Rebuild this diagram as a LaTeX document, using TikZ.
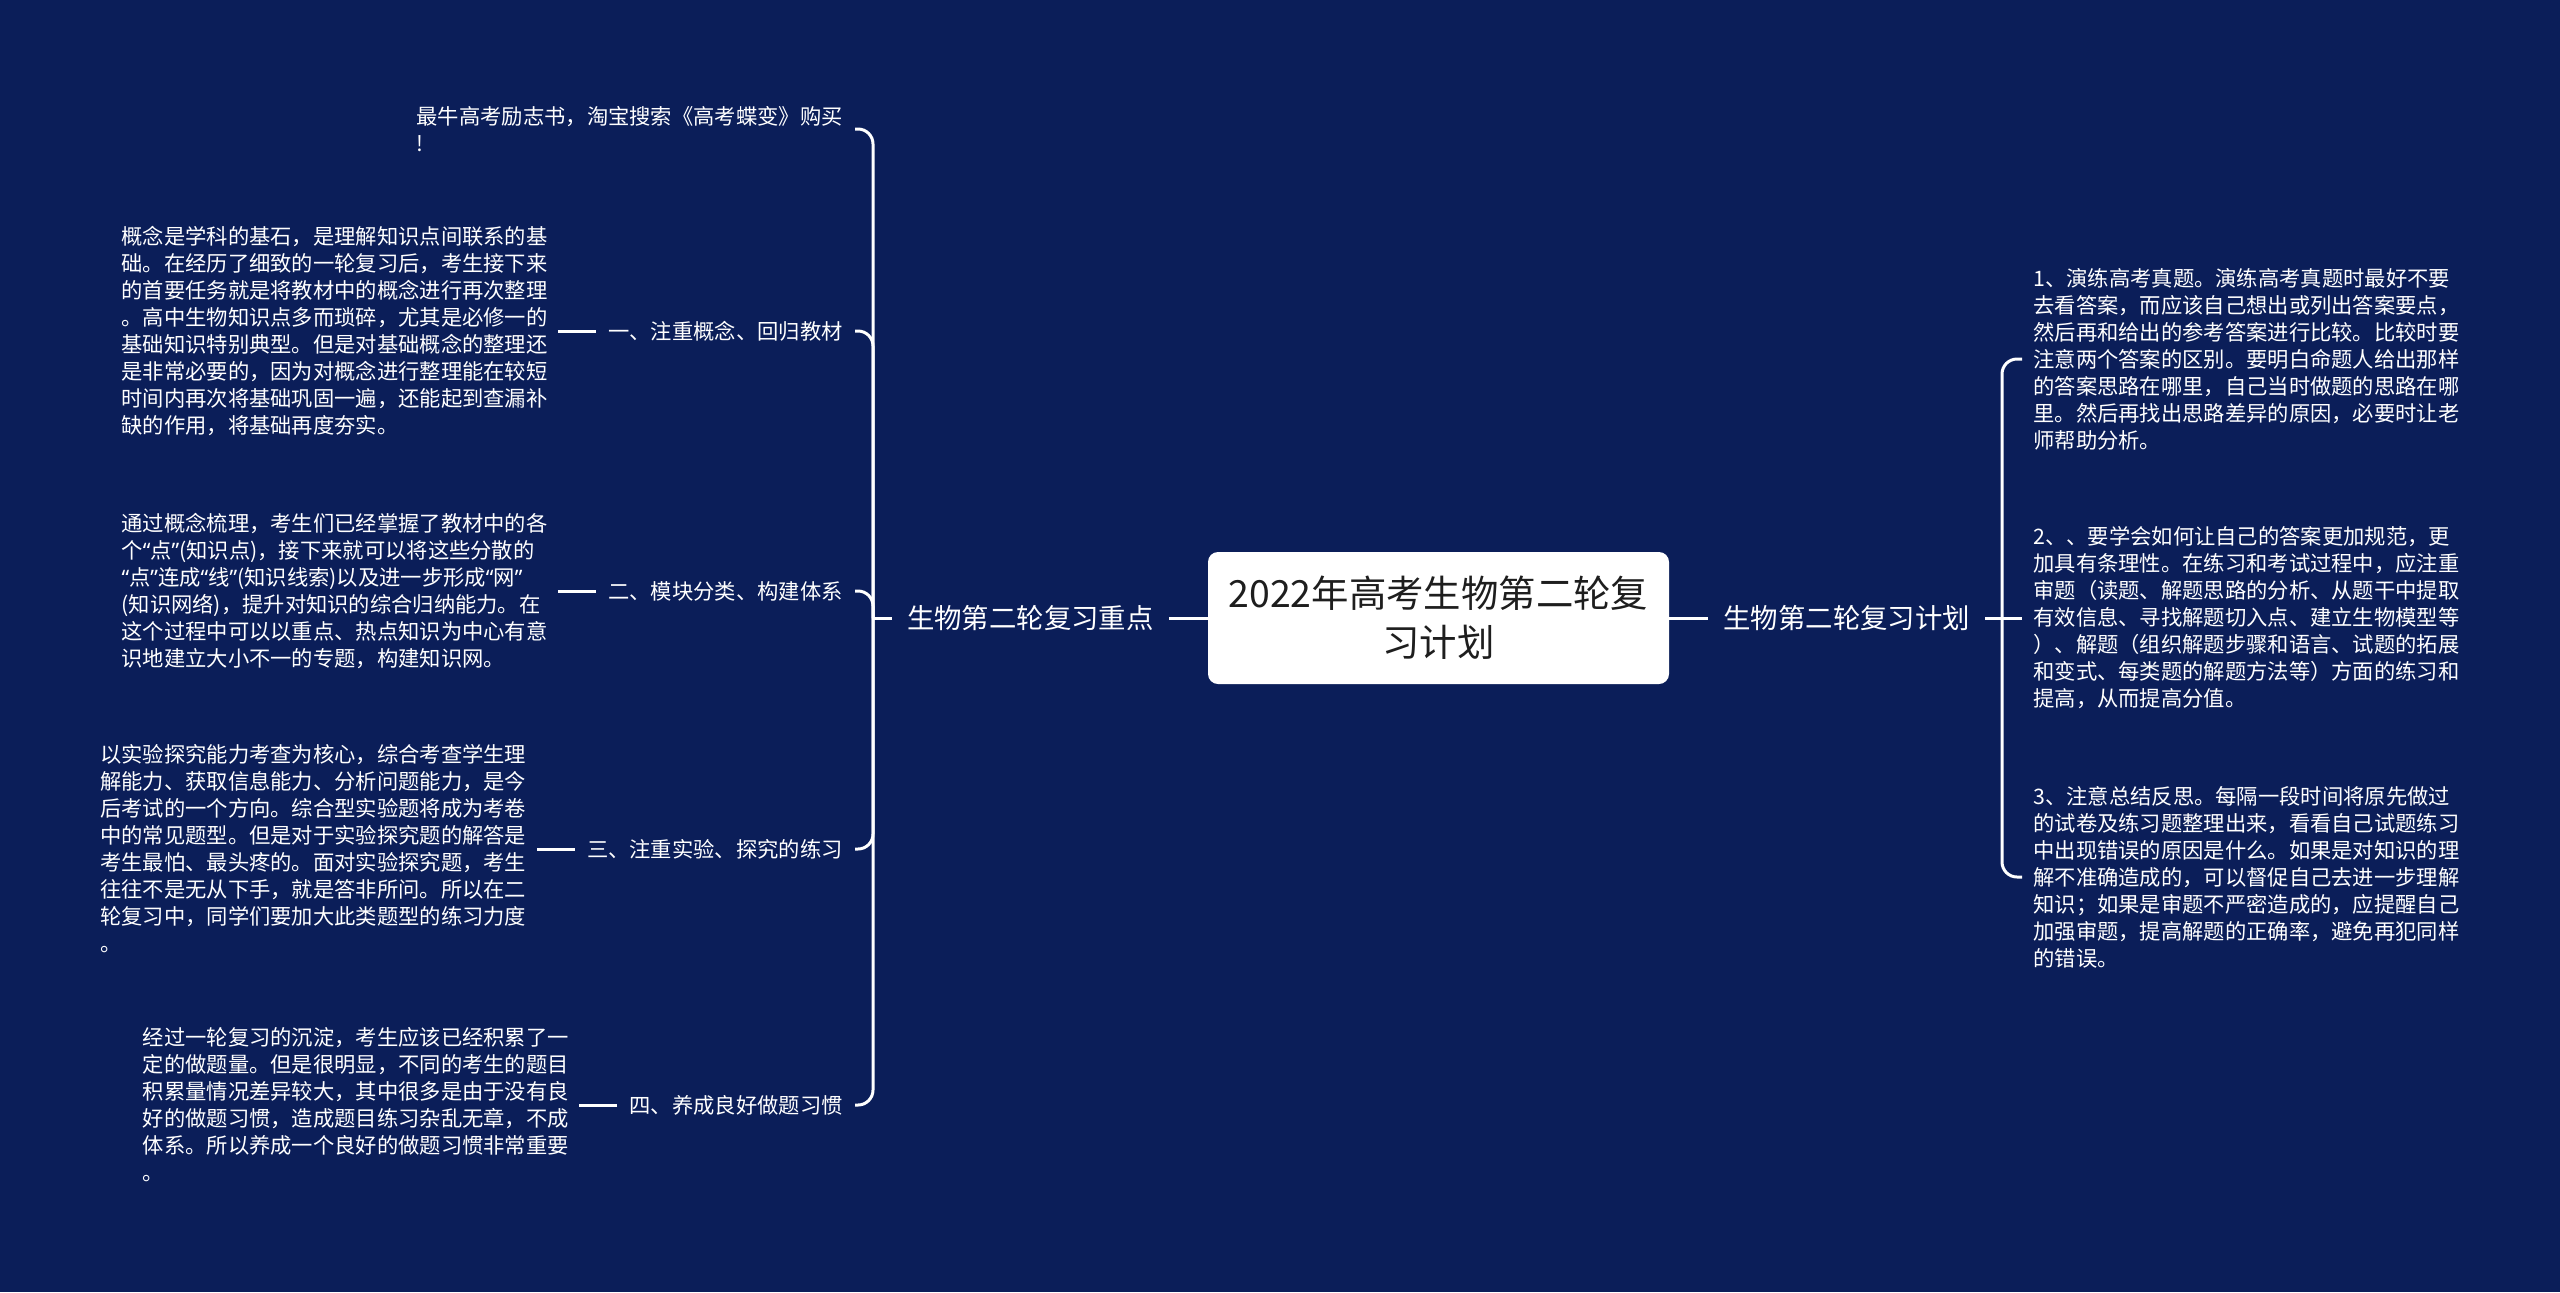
\documentclass[tikz,border=0pt]{standalone}
\usepackage{fontspec}
\newfontfamily\cjk{Noto Sans CJK SC}
\newfontfamily\lat{Noto Sans}
\newcommand{\myoq}{{\lat “}}
\newcommand{\mycq}{{\lat ”}}
\definecolor{bg}{RGB}{11,30,89}
\definecolor{roottext}{RGB}{30,30,30}
\begin{document}
\begin{tikzpicture}[x=0.5pt,y=-0.5pt,
  conn/.style={draw=white,line width=1.5pt,rounded corners=7.5pt},
  leaf/.style={text=white,font=\cjk\fontsize{10.65pt}{13.5pt}\selectfont,align=left,inner xsep=5pt,inner ysep=0pt},
  child/.style={text=white,font=\cjk\fontsize{10.65pt}{13.5pt}\selectfont,align=left,inner xsep=5.5pt,inner ysep=0pt},
  mainlabel/.style={text=white,font=\cjk\fontsize{13.7pt}{16pt}\selectfont,inner xsep=7.5pt,inner ysep=0pt},
  rootbox/.style={fill=white,text=roottext,rounded corners=5pt,minimum width=230.5pt,minimum height=66pt,align=center,font=\cjk\fontsize{18.7pt}{24.5pt}\selectfont,inner sep=0pt}
]
\fill[bg] (0,0) rectangle (2560,1292);
\useasboundingbox (0,0) rectangle (2560,1292);

% root
\node[rootbox] (root) at (1438.5,618) {2022年高考生物第二轮复\\习计划};

% main labels
\node[mainlabel,anchor=east] (lm) at (1169,618) {生物第二轮复习重点};
\node[mainlabel,anchor=west] (rm) at (1708,618) {生物第二轮复习计划};
\coordinate (Lj) at (873,618);
\coordinate (Rj) at (2002,618);

% left children
\node[child,anchor=east,inner xsep=6pt] (c0) at (855,129) {最牛高考励志书，淘宝搜索《高考蝶变》购买\\!};
\node[child,anchor=east,inner xsep=6pt] (c1) at (855,331) {一、注重概念、回归教材};
\node[child,anchor=east,inner xsep=6pt] (c2) at (855,591) {二、模块分类、构建体系};
\node[child,anchor=east,inner xsep=6pt] (c3) at (855,849) {三、注重实验、探究的练习};
\node[child,anchor=east,inner xsep=6pt] (c4) at (855,1105) {四、养成良好做题习惯};

% left leaves
\node[leaf,anchor=east] (l1) at ([xshift=-19pt]c1.west) {概念是学科的基石，是理解知识点间联系的基\\础。在经历了细致的一轮复习后，考生接下来\\的首要任务就是将教材中的概念进行再次整理\\。高中生物知识点多而琐碎，尤其是必修一的\\基础知识特别典型。但是对基础概念的整理还\\是非常必要的，因为对概念进行整理能在较短\\时间内再次将基础巩固一遍，还能起到查漏补\\缺的作用，将基础再度夯实。};
\node[leaf,anchor=east] (l2) at ([xshift=-19pt]c2.west) {通过概念梳理，考生们已经掌握了教材中的各\\个\myoq 点\mycq(知识点)，接下来就可以将这些分散的\\\myoq 点\mycq 连成\myoq 线\mycq(知识线索)以及进一步形成\myoq 网\mycq\\(知识网络)，提升对知识的综合归纳能力。在\\这个过程中可以以重点、热点知识为中心有意\\识地建立大小不一的专题，构建知识网。};
\node[leaf,anchor=east] (l3) at ([xshift=-19pt]c3.west) {以实验探究能力考查为核心，综合考查学生理\\解能力、获取信息能力、分析问题能力，是今\\后考试的一个方向。综合型实验题将成为考卷\\中的常见题型。但是对于实验探究题的解答是\\考生最怕、最头疼的。面对实验探究题，考生\\往往不是无从下手，就是答非所问。所以在二\\轮复习中，同学们要加大此类题型的练习力度\\。};
\node[leaf,anchor=east] (l4) at ([xshift=-19pt]c4.west) {经过一轮复习的沉淀，考生应该已经积累了一\\定的做题量。但是很明显，不同的考生的题目\\积累量情况差异较大，其中很多是由于没有良\\好的做题习惯，造成题目练习杂乱无章，不成\\体系。所以养成一个良好的做题习惯非常重要\\。};

% right children
\node[leaf,anchor=west,inner xsep=5.5pt] (r1) at (2022,359) {1、演练高考真题。演练高考真题时最好不要\\去看答案，而应该自己想出或列出答案要点，\\然后再和给出的参考答案进行比较。比较时要\\注意两个答案的区别。要明白命题人给出那样\\的答案思路在哪里，自己当时做题的思路在哪\\里。然后再找出思路差异的原因，必要时让老\\师帮助分析。};
\node[leaf,anchor=west,inner xsep=5.5pt] (r2) at (2022,618) {2、、要学会如何让自己的答案更加规范，更\\加具有条理性。在练习和考试过程中，应注重\\审题（读题、解题思路的分析、从题干中提取\\有效信息、寻找解题切入点、建立生物模型等\\）、解题（组织解题步骤和语言、试题的拓展\\和变式、每类题的解题方法等）方面的练习和\\提高，从而提高分值。};
\node[leaf,anchor=west,inner xsep=5.5pt] (r3) at (2022,877) {3、注意总结反思。每隔一段时间将原先做过\\的试卷及练习题整理出来，看看自己试题练习\\中出现错误的原因是什么。如果是对知识的理\\解不准确造成的，可以督促自己去进一步理解\\知识；如果是审题不严密造成的，应提醒自己\\加强审题，提高解题的正确率，避免再犯同样\\的错误。};

% connectors
\draw[conn] (root.west) -- (lm.east);
\draw[conn] (lm.west) -- (Lj);
\foreach \c in {c0,c1,c2,c3,c4} {\draw[conn] (Lj) |- (\c.east);}
\draw[conn] (c1.west) -- (l1.east);
\draw[conn] (c2.west) -- (l2.east);
\draw[conn] (c3.west) -- (l3.east);
\draw[conn] (c4.west) -- (l4.east);
\draw[conn] (root.east) -- (rm.west);
\draw[conn] (rm.east) -- (Rj);
\draw[conn] (Rj) |- (r1.west);
\draw[conn] (Rj) -- (r2.west);
\draw[conn] (Rj) |- (r3.west);
\end{tikzpicture}
\end{document}
